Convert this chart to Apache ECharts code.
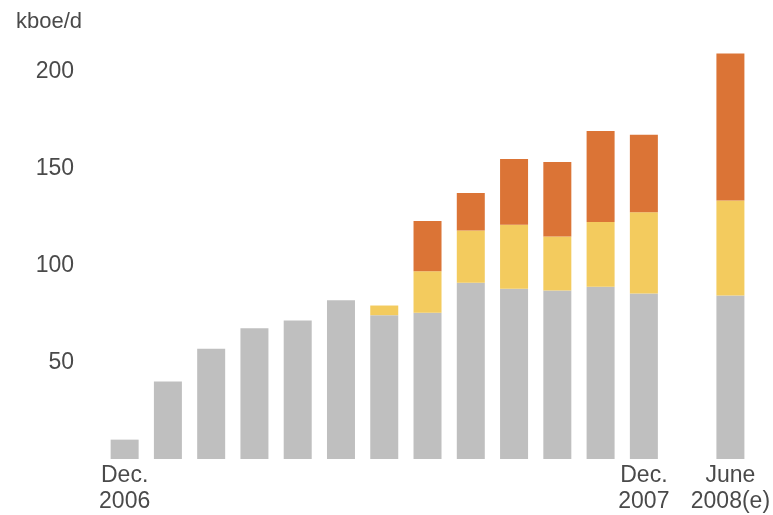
<!DOCTYPE html>
<html>
<head>
<meta charset="utf-8">
<script src="https://cdn.jsdelivr.net/npm/echarts@6/dist/echarts.min.js"></script>
<style>
  html, body { margin: 0; padding: 0; background: #ffffff; }
  #chart { width: 773px; height: 515px; }
</style>
</head>
<body>
<div id="chart"></div>
<script>
// Monthly production, kboe/d (one blank slot between Dec. 2007 and June 2008)
const categories = [
  'Dec.\n2006', '', '', '', '', '', '', '', '', '', '', '',
  'Dec.\n2007', '', 'June\n2008(e)'
];
const baseValues   = [10, 40, 57, 67.5, 71.5, 82, 74.3, 75.5, 91, 88, 87, 89, 85.5, null, 84.5];
const middleValues = [null, null, null, null, null, null, 5, 21.5, 27, 33, 28, 33.5, 42, null, 49];
const topValues    = [null, null, null, null, null, null, null, 26, 19.5, 34, 38.5, 47, 40, null, 76];
const unitLabel = 'kboe/d';

const textColor = '#4a4a4a';
const fontFamily = 'Liberation Sans, Arial, sans-serif';
const fontSize = 23;

const chart = echarts.init(document.getElementById('chart'), null, { renderer: 'canvas' });

function barSeries(name, data, color) {
  return {
    name: name,
    type: 'bar',
    stack: 'total',
    data: data,
    barWidth: 28,
    itemStyle: { color: color },
    emphasis: { disabled: true },
    silent: true
  };
}

chart.setOption({
  animation: false,
  backgroundColor: '#ffffff',
  title: {
    text: unitLabel,
    left: 11,
    top: 6,
    textStyle: { color: textColor, fontSize: 22, fontWeight: 'normal', fontFamily: fontFamily }
  },
  grid: { left: 103, right: 19.5, top: 33.2, bottom: 55 },
  xAxis: {
    type: 'category',
    data: categories,
    axisLine: { show: false },
    axisTick: { show: false },
    axisLabel: {
      interval: 0,
      color: textColor,
      fontSize: fontSize,
      fontFamily: fontFamily,
      lineHeight: 26,
      margin: 4
    },
    splitLine: { show: false }
  },
  yAxis: {
    type: 'value',
    min: 0,
    max: 220,
    interval: 50,
    axisLine: { show: false },
    axisTick: { show: false },
    splitLine: { show: false },
    axisLabel: {
      color: textColor,
      fontSize: fontSize,
      fontFamily: fontFamily,
      margin: 29,
      formatter: function (v) { return (v > 0 && v % 50 === 0) ? String(v) : ''; }
    }
  },
  series: [
    barSeries('base', baseValues, '#bfbfbf'),
    barSeries('middle', middleValues, '#f3cb5e'),
    barSeries('top', topValues, '#db7436')
  ]
});
</script>
</body>
</html>
